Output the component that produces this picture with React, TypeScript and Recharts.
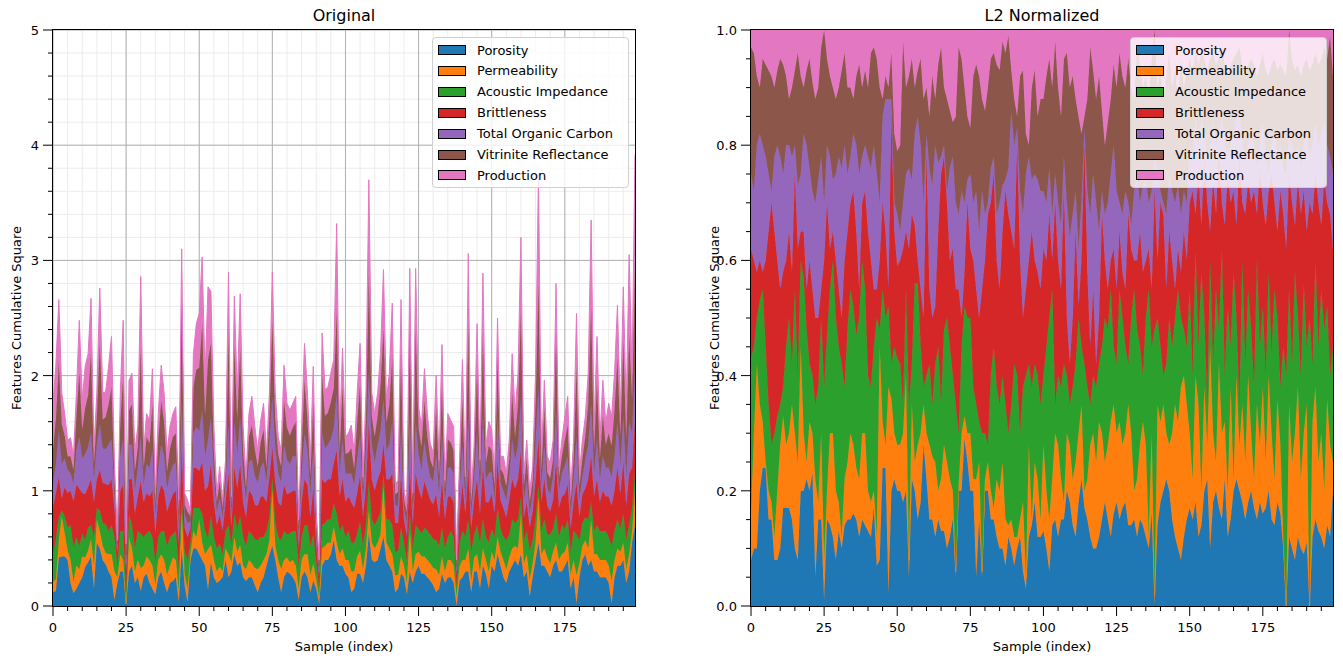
import { AreaChart, Area, XAxis, YAxis, CartesianGrid } from 'recharts';

// Per-sample squared feature values, "Original" panel (hundredths)
const porosityOrig = [
  12, 13, 42, 43, 43, 40, 20, 11, 15, 20, 25, 34, 38, 43, 15, 55, 50, 40, 36, 30, 25, 5, 20, 30, 30, 2, 30, 35, 20, 25, 13, 25, 28, 20, 15, 10, 25, 30, 20, 12, 20, 22, 25, 3, 50, 18, 3, 40, 50, 50,
  45, 40, 35, 14, 38, 25, 20, 22, 25, 40, 25, 30, 45, 35, 38, 25, 22, 25, 25, 18, 12, 20, 25, 35, 45, 52, 40, 25, 12, 25, 30, 28, 25, 20, 5, 25, 30, 25, 12, 22, 15, 2, 35, 40, 40, 45, 57, 40, 35, 35,
  28, 25, 12, 15, 28, 28, 20, 35, 63, 40, 38, 40, 50, 60, 40, 35, 30, 12, 15, 28, 25, 10, 30, 20, 30, 35, 28, 28, 25, 22, 18, 12, 15, 28, 20, 25, 25, 20, 0, 22, 25, 30, 30, 12, 30, 30, 15, 35, 28, 15,
  35, 30, 45, 35, 25, 20, 30, 35, 40, 35, 45, 25, 30, 8, 25, 40, 55, 35, 35, 30, 25, 35, 40, 30, 30, 35, 40, 15, 25, 2, 25, 40, 45, 35, 40, 30, 30, 25, 25, 25, 20, 2, 25, 35, 35, 40, 20, 30, 55, 70,
];
const permeabilityOrig = [
  9, 10, 15, 35, 20, 8, 20, 10, 20, 12, 18, 8, 10, 15, 20, 20, 15, 12, 10, 15, 20, 25, 5, 15, 10, 0, 30, 15, 10, 15, 20, 10, 15, 20, 20, 8, 15, 15, 20, 15, 15, 20, 15, 10, 35, 10, 12, 5, 15, 10,
  30, 15, 10, 35, 15, 15, 10, 12, 5, 10, 20, 8, 15, 12, 15, 10, 10, 15, 12, 15, 20, 15, 15, 10, 12, 50, 12, 15, 20, 15, 12, 10, 15, 15, 10, 15, 15, 20, 15, 15, 8, 5, 15, 12, 15, 10, 12, 15, 10, 15,
  12, 15, 18, 15, 15, 20, 12, 15, 20, 15, 12, 15, 12, 45, 15, 15, 15, 15, 12, 15, 10, 10, 35, 10, 15, 12, 15, 15, 15, 15, 15, 20, 12, 15, 10, 15, 15, 15, 8, 12, 15, 10, 20, 10, 12, 15, 15, 15, 12, 15,
  12, 10, 15, 12, 15, 12, 12, 15, 12, 15, 35, 12, 15, 15, 12, 15, 40, 10, 15, 12, 12, 12, 15, 10, 15, 12, 15, 12, 15, 25, 12, 12, 12, 15, 35, 15, 15, 15, 15, 15, 15, 20, 15, 15, 12, 15, 12, 15, 10, 30,
];
const acousticOrig = [
  25, 35, 20, 5, 15, 20, 30, 30, 25, 20, 20, 15, 20, 12, 25, 10, 18, 20, 25, 20, 25, 30, 10, 20, 25, 10, 20, 20, 20, 25, 30, 25, 20, 25, 25, 20, 20, 20, 25, 25, 25, 20, 25, 20, 10, 20, 25, 10, 20, 25,
  10, 25, 20, 10, 25, 20, 20, 20, 15, 15, 25, 15, 20, 20, 25, 25, 20, 25, 25, 25, 25, 25, 20, 20, 20, 10, 20, 20, 25, 25, 20, 25, 25, 30, 20, 20, 25, 25, 25, 25, 15, 10, 20, 20, 20, 20, 20, 25, 20, 20,
  20, 25, 25, 25, 20, 25, 20, 20, 25, 20, 20, 20, 20, 10, 20, 25, 25, 20, 20, 25, 20, 20, 15, 20, 25, 20, 20, 25, 25, 25, 25, 25, 25, 25, 20, 20, 25, 25, 10, 20, 25, 20, 25, 25, 20, 25, 25, 25, 20, 25,
  20, 20, 25, 20, 20, 25, 20, 25, 20, 25, 15, 20, 20, 25, 20, 20, 10, 20, 25, 20, 25, 20, 25, 20, 25, 20, 20, 20, 25, 35, 20, 20, 20, 25, 15, 20, 25, 25, 25, 25, 25, 30, 25, 25, 20, 25, 25, 25, 20, 15,
];
const brittlenessOrig = [
  40, 40, 35, 10, 25, 30, 30, 40, 45, 50, 35, 40, 35, 40, 30, 25, 35, 35, 35, 40, 40, 25, 10, 35, 40, 15, 30, 40, 30, 30, 45, 30, 35, 30, 40, 25, 35, 40, 35, 30, 30, 35, 35, 20, 40, 20, 20, 12, 35, 35,
  32, 45, 35, 45, 45, 30, 20, 25, 20, 25, 45, 15, 40, 35, 45, 30, 25, 35, 35, 30, 30, 35, 35, 25, 35, 25, 35, 30, 30, 40, 35, 35, 35, 35, 15, 30, 40, 35, 25, 40, 15, 8, 40, 35, 35, 35, 35, 55, 30, 40,
  30, 30, 35, 30, 35, 40, 25, 35, 50, 35, 30, 35, 35, 25, 35, 35, 45, 25, 25, 45, 20, 20, 40, 20, 45, 35, 30, 40, 35, 30, 30, 40, 25, 40, 25, 35, 30, 30, 8, 25, 40, 20, 45, 20, 30, 40, 25, 45, 30, 35,
  30, 20, 40, 25, 25, 20, 30, 35, 30, 35, 40, 20, 25, 20, 25, 35, 40, 25, 35, 25, 20, 25, 45, 25, 25, 30, 30, 20, 25, 45, 20, 25, 25, 35, 40, 30, 40, 25, 35, 30, 35, 35, 35, 45, 30, 45, 30, 45, 35, 45,
];
const tocOrig = [
  20, 25, 40, 30, 25, 20, 15, 15, 30, 45, 30, 35, 35, 40, 20, 30, 40, 30, 30, 35, 35, 15, 5, 30, 40, 10, 30, 30, 20, 25, 40, 15, 25, 25, 35, 15, 25, 35, 30, 20, 25, 25, 25, 15, 45, 12, 12, 6, 30, 35,
  35, 45, 30, 40, 40, 25, 12, 15, 12, 15, 45, 10, 40, 30, 40, 25, 15, 25, 30, 25, 20, 25, 30, 18, 30, 45, 30, 25, 20, 35, 30, 25, 30, 30, 10, 25, 40, 30, 20, 35, 10, 5, 40, 30, 30, 35, 30, 50, 20, 35,
  25, 20, 25, 20, 30, 35, 15, 30, 45, 30, 25, 30, 35, 40, 25, 30, 45, 15, 15, 40, 10, 12, 45, 12, 45, 30, 25, 35, 25, 20, 20, 35, 20, 40, 15, 25, 25, 25, 5, 20, 35, 12, 45, 12, 20, 40, 20, 45, 20, 25,
  20, 12, 40, 15, 15, 15, 20, 35, 25, 30, 45, 15, 20, 12, 15, 30, 45, 15, 30, 15, 15, 20, 45, 15, 20, 25, 25, 12, 20, 40, 15, 15, 25, 30, 45, 20, 35, 20, 30, 25, 25, 25, 30, 40, 25, 40, 25, 45, 30, 45,
];
const vitriniteOrig = [
  30, 40, 60, 35, 20, 12, 15, 12, 30, 55, 25, 40, 45, 70, 13, 25, 70, 25, 28, 35, 45, 12, 4, 30, 55, 8, 30, 35, 17, 18, 75, 15, 24, 21, 40, 10, 25, 38, 30, 15, 22, 25, 25, 12, 80, 8, 10, 5, 40, 50,
  55, 75, 35, 70, 65, 20, 8, 14, 8, 12, 75, 8, 65, 30, 60, 20, 10, 22, 30, 23, 14, 22, 28, 12, 23, 65, 25, 17, 14, 38, 28, 25, 25, 30, 8, 21, 45, 28, 15, 40, 10, 5, 50, 28, 28, 32, 35, 70, 18, 45,
  17, 18, 22, 14, 32, 45, 10, 28, 85, 25, 22, 25, 40, 60, 24, 35, 55, 10, 12, 65, 8, 9, 75, 8, 80, 22, 20, 35, 22, 15, 12, 40, 15, 45, 10, 25, 22, 20, 4, 14, 40, 10, 80, 10, 15, 55, 14, 70, 14, 24,
  18, 12, 50, 12, 15, 12, 16, 40, 20, 35, 75, 12, 18, 10, 12, 35, 90, 12, 32, 14, 14, 16, 65, 11, 15, 22, 27, 11, 18, 60, 12, 16, 20, 35, 85, 20, 50, 18, 35, 20, 30, 27, 40, 55, 25, 65, 32, 75, 30, 90,
];
const productionOrig = [
  40, 47, 54, 27, 19, 14, 16, 12, 20, 46, 26, 36, 36, 47, 15, 20, 48, 23, 22, 33, 44, 15, 3, 25, 48, 9, 26, 27, 18, 18, 63, 15, 20, 20, 31, 10, 22, 31, 25, 16, 19, 20, 23, 12, 50, 10, 10, 5, 29, 40,
  47, 58, 35, 63, 45, 21, 8, 13, 7, 10, 55, 9, 44, 23, 48, 21, 10, 20, 25, 20, 14, 19, 23, 13, 20, 43, 23, 15, 14, 31, 21, 22, 21, 22, 7, 20, 33, 22, 15, 31, 10, 5, 37, 23, 22, 25, 25, 77, 17, 34,
  15, 17, 20, 14, 25, 35, 10, 22, 82, 20, 20, 20, 28, 52, 20, 27, 48, 9, 10, 48, 7, 8, 53, 8, 53, 19, 18, 28, 20, 14, 13, 28, 15, 34, 9, 22, 19, 21, 5, 14, 34, 10, 61, 9, 14, 40, 13, 54, 14, 21,
  18, 11, 35, 11, 15, 11, 16, 34, 20, 27, 65, 11, 16, 10, 12, 27, 95, 13, 24, 14, 13, 16, 45, 10, 14, 20, 25, 10, 16, 47, 11, 16, 17, 27, 75, 18, 39, 16, 31, 19, 26, 25, 32, 46, 20, 47, 29, 70, 22, 97,
];

// Per-sample shares, "L2 Normalized" panel (percent)
const porosityL2 = [
  8, 10, 10, 20, 24, 24, 15, 15, 8, 8, 10, 17, 17, 17, 15, 10, 8, 20, 20, 22, 20, 23, 5, 15, 15, 1, 15, 14, 12, 8, 13, 10, 14, 15, 15, 16, 15, 12, 15, 14, 13, 12, 17, 7, 8, 24, 24, 2, 20, 22,
  20, 20, 18, 20, 5, 22, 20, 15, 18, 28, 22, 15, 15, 12, 15, 13, 13, 10, 12, 15, 5, 20, 20, 29, 25, 20, 20, 5, 15, 5, 20, 20, 15, 15, 12, 10, 10, 7, 12, 10, 7, 10, 12, 6, 3, 12, 14, 18, 12, 12,
  13, 10, 6, 14, 15, 12, 15, 15, 20, 18, 14, 12, 18, 22, 17, 15, 12, 10, 10, 12, 15, 18, 15, 12, 16, 18, 15, 17, 18, 14, 14, 15, 12, 15, 14, 12, 10, 16, 0, 14, 18, 20, 22, 20, 15, 12, 10, 8, 12, 15,
  17, 15, 18, 12, 14, 20, 22, 10, 18, 20, 17, 15, 22, 12, 15, 20, 22, 20, 18, 15, 18, 20, 17, 15, 18, 16, 17, 20, 15, 14, 18, 16, 10, 0, 12, 10, 8, 12, 10, 9, 11, 0, 12, 15, 13, 12, 10, 14, 12, 20,
];
const permeabilityL2 = [
  8, 20, 32, 15, 8, 1, 5, 3, 4, 12, 18, 16, 11, 13, 20, 20, 17, 25, 10, 3, 12, 7, 17, 3, 15, 7, 5, 16, 18, 12, 5, 2, 8, 10, 15, 12, 9, 10, 15, 16, 7, 6, 3, 5, 37, 8, 4, 36, 16, 8,
  8, 8, 12, 20, 3, 13, 5, 13, 12, 7, 8, 13, 11, 13, 5, 9, 15, 15, 10, 5, 1, 1, 10, 4, 5, 10, 2, 17, 10, 1, 2, 5, 5, 2, 10, 10, 15, 8, 2, 5, 5, 2, 3, 12, 2, 16, 1, 7, 10, 3,
  15, 10, 9, 8, 15, 16, 7, 3, 10, 10, 8, 13, 12, 13, 3, 7, 16, 20, 15, 20, 15, 7, 13, 20, 19, 12, 17, 11, 12, 21, 16, 5, 10, 13, 18, 16, 2, 14, 2, 21, 14, 15, 8, 8, 15, 23, 22, 30, 28, 20,
  13, 7, 22, 23, 6, 18, 6, 35, 12, 5, 25, 15, 10, 8, 23, 2, 18, 8, 17, 10, 22, 10, 5, 20, 10, 22, 8, 20, 15, 8, 18, 12, 2, 0, 23, 15, 22, 26, 12, 21, 24, 0, 20, 23, 12, 18, 10, 22, 16, 5,
];
const acousticL2 = [
  27, 15, 8, 18, 23, 20, 15, 10, 18, 13, 7, 5, 17, 20, 7, 25, 15, 15, 27, 23, 10, 10, 13, 20, 20, 30, 27, 25, 30, 30, 27, 30, 16, 23, 25, 24, 23, 28, 30, 25, 20, 20, 25, 38, 3, 23, 22, 14, 6, 15,
  15, 14, 5, 15, 27, 7, 31, 28, 15, 3, 10, 14, 9, 17, 25, 13, 20, 25, 23, 20, 29, 9, 15, 19, 20, 20, 16, 13, 7, 24, 8, 3, 20, 28, 16, 15, 15, 20, 16, 20, 30, 28, 15, 20, 35, 14, 23, 17, 18, 20,
  12, 25, 35, 33, 5, 12, 16, 24, 10, 7, 16, 17, 20, 10, 22, 16, 7, 10, 13, 10, 15, 25, 20, 23, 10, 12, 23, 22, 15, 7, 20, 35, 26, 17, 8, 22, 43, 15, 46, 15, 13, 5, 12, 22, 15, 15, 23, 12, 8, 10,
  25, 18, 22, 10, 38, 12, 7, 15, 12, 30, 6, 32, 8, 32, 7, 36, 10, 7, 25, 17, 15, 18, 16, 25, 17, 14, 15, 18, 14, 33, 14, 10, 33, 40, 20, 17, 28, 12, 18, 26, 10, 50, 10, 22, 20, 25, 28, 16, 12, 20,
];
const brittlenessL2 = [
  19, 15, 8, 7, 3, 15, 30, 42, 35, 27, 20, 20, 15, 15, 16, 20, 22, 5, 8, 7, 18, 15, 15, 12, 5, 22, 23, 7, 5, 10, 10, 8, 22, 17, 15, 20, 18, 5, 10, 17, 25, 22, 10, 5, 12, 15, 15, 3, 43, 20,
  16, 18, 27, 10, 27, 26, 10, 4, 10, 12, 38, 13, 15, 10, 20, 40, 30, 20, 15, 22, 20, 25, 5, 6, 20, 12, 22, 20, 18, 25, 30, 40, 30, 30, 22, 20, 25, 37, 38, 30, 20, 40, 30, 12, 15, 18, 27, 18, 18, 20,
  22, 15, 18, 5, 35, 20, 17, 30, 10, 7, 12, 23, 2, 15, 38, 20, 10, 15, 4, 8, 23, 10, 7, 5, 17, 13, 10, 8, 10, 26, 12, 5, 12, 20, 18, 10, 7, 10, 24, 10, 25, 28, 13, 15, 15, 5, 7, 8, 17, 15,
  15, 32, 6, 30, 8, 28, 35, 5, 32, 13, 32, 8, 26, 23, 25, 14, 16, 43, 10, 26, 19, 22, 34, 8, 31, 18, 26, 14, 31, 15, 15, 34, 23, 22, 20, 28, 8, 24, 28, 16, 20, 20, 26, 15, 25, 11, 26, 18, 28, 17,
];
const tocL2 = [
  13, 12, 22, 22, 22, 18, 10, 2, 13, 20, 23, 17, 20, 15, 20, 5, 11, 10, 17, 25, 16, 17, 20, 24, 23, 10, 10, 16, 9, 15, 23, 26, 20, 10, 8, 10, 15, 20, 8, 8, 13, 16, 25, 20, 10, 15, 23, 33, 3, 5,
  9, 5, 8, 10, 14, 6, 16, 25, 25, 20, 4, 21, 23, 28, 12, 3, 2, 2, 16, 16, 15, 13, 22, 12, 4, 13, 10, 17, 15, 17, 8, 2, 6, 3, 8, 15, 8, 2, 8, 21, 18, 3, 12, 18, 20, 18, 9, 15, 16, 17,
  10, 10, 8, 8, 5, 10, 11, 6, 20, 22, 18, 7, 10, 10, 3, 14, 23, 20, 28, 15, 4, 8, 15, 15, 18, 17, 5, 10, 17, 2, 4, 12, 15, 5, 15, 14, 8, 17, 6, 15, 2, 2, 13, 10, 12, 15, 11, 10, 7, 10,
  10, 6, 17, 5, 19, 4, 8, 15, 10, 12, 2, 15, 14, 3, 10, 10, 19, 8, 10, 10, 6, 12, 8, 8, 4, 14, 12, 3, 5, 12, 13, 8, 8, 13, 7, 10, 12, 6, 8, 8, 17, 8, 12, 9, 10, 16, 10, 10, 10, 13,
];
const vitriniteL2 = [
  22, 24, 12, 8, 15, 16, 18, 20, 12, 13, 17, 19, 12, 8, 12, 13, 23, 17, 8, 13, 19, 19, 18, 16, 19, 30, 15, 14, 16, 13, 12, 17, 16, 15, 12, 6, 12, 19, 12, 13, 12, 20, 17, 20, 20, 3, 4, 2, 8, 12,
  11, 15, 28, 15, 16, 21, 8, 8, 15, 18, 8, 9, 19, 8, 17, 19, 10, 16, 10, 6, 15, 29, 23, 20, 11, 8, 22, 22, 27, 16, 18, 20, 19, 18, 26, 23, 25, 22, 23, 7, 8, 2, 20, 25, 7, 2, 16, 18, 11, 16,
  16, 22, 19, 22, 23, 20, 19, 17, 26, 26, 24, 16, 23, 12, 2, 16, 29, 18, 18, 27, 14, 12, 14, 13, 14, 18, 26, 24, 18, 25, 24, 16, 22, 24, 17, 18, 18, 23, 22, 15, 21, 18, 24, 21, 18, 23, 15, 27, 18, 23,
  15, 15, 11, 14, 11, 13, 15, 15, 12, 14, 13, 12, 14, 14, 14, 13, 11, 11, 14, 15, 14, 13, 14, 16, 14, 12, 15, 17, 14, 13, 15, 14, 17, 17, 18, 15, 15, 14, 16, 14, 13, 15, 14, 12, 14, 13, 13, 15, 21, 17,
];
const productionL2 = [
  3, 4, 8, 10, 5, 6, 7, 8, 10, 7, 5, 6, 8, 12, 10, 7, 4, 8, 10, 7, 5, 9, 12, 10, 3, 0, 5, 8, 10, 12, 10, 7, 4, 10, 10, 12, 8, 6, 10, 7, 10, 4, 3, 5, 10, 12, 8, 10, 4, 18,
  21, 20, 2, 10, 8, 5, 10, 7, 5, 12, 10, 15, 8, 12, 6, 3, 10, 12, 14, 16, 15, 3, 5, 10, 15, 17, 8, 6, 8, 12, 14, 10, 5, 4, 6, 7, 2, 4, 1, 7, 12, 15, 8, 7, 18, 20, 10, 7, 15, 12,
  12, 8, 5, 10, 2, 10, 15, 5, 4, 10, 8, 12, 15, 18, 15, 12, 3, 7, 12, 8, 14, 20, 16, 12, 6, 10, 4, 8, 10, 5, 10, 12, 3, 6, 10, 8, 12, 5, 0, 10, 7, 12, 8, 4, 10, 7, 12, 5, 10, 7,
  5, 7, 4, 6, 4, 5, 7, 5, 4, 6, 5, 3, 6, 8, 6, 5, 4, 3, 6, 7, 6, 5, 6, 8, 6, 4, 7, 8, 6, 5, 7, 6, 7, 8, 0, 5, 7, 6, 8, 6, 5, 7, 6, 4, 6, 5, 3, 5, 1, 8,
];

const seriesNames = [
  'Porosity',
  'Permeability',
  'Acoustic Impedance',
  'Brittleness',
  'Total Organic Carbon',
  'Vitrinite Reflectance',
  'Production',
];
const seriesColors = ['#1f77b4', '#ff7f0e', '#2ca02c', '#d62728', '#9467bd', '#8c564b', '#e377c2'];

const xTicks = [
  0, 5, 10, 15, 20, 25, 30, 35, 40, 45, 50, 55, 60, 65, 70, 75, 80, 85, 90, 95, 100, 105, 110, 115, 120, 125, 130, 135,
  140, 145, 150, 155, 160, 165, 170, 175, 180, 185, 190, 195,
];
const xMajorTicks = [0, 25, 50, 75, 100, 125, 150, 175];
const yTicksOrig = [
  0, 0.2, 0.4, 0.6, 0.8, 1, 1.2, 1.4, 1.6, 1.8, 2, 2.2, 2.4, 2.6, 2.8, 3, 3.2, 3.4, 3.6, 3.8, 4, 4.2, 4.4, 4.6, 4.8, 5,
];
const yMajorOrig = [0, 1, 2, 3, 4, 5];
const yTicksL2 = [
  0, 0.05, 0.1, 0.15, 0.2, 0.25, 0.3, 0.35, 0.4, 0.45, 0.5, 0.55, 0.6, 0.65, 0.7, 0.75, 0.8, 0.85, 0.9, 0.95, 1,
];
const yMajorL2 = [0, 0.2, 0.4, 0.6, 0.8, 1];

const origColumns = [porosityOrig, permeabilityOrig, acousticOrig, brittlenessOrig, tocOrig, vitriniteOrig, productionOrig];
const l2Columns = [porosityL2, permeabilityL2, acousticL2, brittlenessL2, tocL2, vitriniteL2, productionL2];

const buildRows = (cols: number[][], scale: number) =>
  cols[0].map((_, i) => {
    const row: Record<string, number> = { sample: i };
    seriesNames.forEach((name, k) => {
      row[name] = cols[k][i] / scale;
    });
    return row;
  });

const originalData = buildRows(origColumns, 100);
const l2Data = buildRows(l2Columns, 100);

const FONT = '"DejaVu Sans", Verdana, sans-serif';

const XTick = (props: any) => {
  const { x, y, payload } = props;
  const major = xMajorTicks.includes(payload.value);
  return (
    <g>
      <line x1={x} x2={x} y1={y} y2={y + (major ? 10 : 5)} stroke="#000" strokeWidth={1} />
      {major && (
        <text x={x} y={y + 26} textAnchor="middle" fontSize={13} fill="#000" fontFamily={FONT}>
          {payload.value}
        </text>
      )}
    </g>
  );
};

const makeYTick = (majors: number[], digits: number) => (props: any) => {
  const { x, y, payload } = props;
  const major = majors.some((m) => Math.abs(m - payload.value) < 1e-9);
  return (
    <g>
      <line x1={x} x2={x - (major ? 10 : 5)} y1={y} y2={y} stroke="#000" strokeWidth={1} />
      {major && (
        <text x={x - 14} y={y + 5} textAnchor="end" fontSize={13} fill="#000" fontFamily={FONT}>
          {payload.value.toFixed(digits)}
        </text>
      )}
    </g>
  );
};

const YTickOrig = makeYTick(yMajorOrig, 0);
const YTickL2 = makeYTick(yMajorL2, 1);

const LegendBox = ({ left }: { left: number }) => (
  <div
    style={{
      position: 'absolute',
      left,
      top: 37,
      width: 197,
      height: 151,
      background: 'rgba(255,255,255,0.8)',
      border: '1px solid #d0d0d0',
      borderRadius: 4,
      boxSizing: 'border-box',
    }}
  >
    {seriesNames.map((name, i) => (
      <div
        key={name}
        style={{
          position: 'absolute',
          left: 5,
          top: 4 + i * 20.9,
          height: 16,
          display: 'flex',
          alignItems: 'center',
          whiteSpace: 'nowrap',
        }}
      >
        <div
          style={{
            width: 28,
            height: 10,
            background: seriesColors[i],
            border: '1px solid #000',
            boxSizing: 'border-box',
          }}
        />
        <span style={{ marginLeft: 11, fontSize: 13, color: '#000' }}>{name}</span>
      </div>
    ))}
  </div>
);

const Panel = ({
  left,
  title,
  data,
  expand,
}: {
  left: number;
  title: string;
  data: Record<string, number>[];
  expand: boolean;
}) => (
  <div style={{ position: 'absolute', left, top: 0, width: 660, height: 664 }}>
    <AreaChart
      width={660}
      height={664}
      data={data}
      stackOffset={expand ? 'expand' : 'none'}
      margin={{ top: 30, right: 25, bottom: 0, left: 0 }}
    >
      {!expand && (
        <CartesianGrid
          stroke="#ececec"
          strokeWidth={1}
          horizontalValues={yTicksOrig}
          verticalValues={xTicks}
        />
      )}
      {!expand && (
        <CartesianGrid
          stroke="#b0b0b0"
          strokeWidth={1}
          horizontalValues={yMajorOrig}
          verticalValues={xMajorTicks}
        />
      )}
      <XAxis
        dataKey="sample"
        type="number"
        domain={[0, 199]}
        ticks={xTicks}
        interval={0}
        height={58}
        axisLine={false}
        tickLine={false}
        tickSize={0}
        tickMargin={0}
        tick={XTick}
      />
      <YAxis
        type="number"
        domain={expand ? [0, 1] : [0, 5]}
        ticks={expand ? yTicksL2 : yTicksOrig}
        interval={0}
        width={53}
        axisLine={false}
        tickLine={false}
        tickSize={0}
        tickMargin={0}
        tick={expand ? YTickL2 : YTickOrig}
      />
      {seriesNames.map((name, i) => (
        <Area
          key={name}
          type="linear"
          dataKey={name}
          stackId="s"
          stroke={seriesColors[i]}
          strokeWidth={1}
          fill={seriesColors[i]}
          fillOpacity={1}
          dot={false}
          activeDot={false}
          isAnimationActive={false}
        />
      ))}
    </AreaChart>
    <div
      style={{
        position: 'absolute',
        left: 52,
        top: 29,
        width: 584,
        height: 578,
        border: '1px solid #000',
        boxSizing: 'border-box',
        pointerEvents: 'none',
      }}
    />
    <div
      style={{
        position: 'absolute',
        left: 344,
        top: 16,
        transform: 'translate(-50%, -50%)',
        fontSize: 16,
        lineHeight: '16px',
        whiteSpace: 'nowrap',
      }}
    >
      {title}
    </div>
    <div
      style={{
        position: 'absolute',
        left: 344,
        top: 646,
        transform: 'translate(-50%, -50%)',
        fontSize: 13,
        lineHeight: '13px',
        whiteSpace: 'nowrap',
      }}
    >
      Sample (index)
    </div>
    <div
      style={{
        position: 'absolute',
        left: 16,
        top: 318,
        transform: 'translate(-50%, -50%) rotate(-90deg)',
        fontSize: 13,
        lineHeight: '13px',
        whiteSpace: 'nowrap',
      }}
    >
      Features Cumulative Square
    </div>
    <LegendBox left={432} />
  </div>
);

export default function App() {
  return (
    <div
      style={{
        position: 'absolute',
        left: 0,
        top: 0,
        width: 1343,
        height: 664,
        background: '#fff',
        fontFamily: FONT,
        color: '#000',
        overflow: 'hidden',
      }}
    >
      <Panel left={0} title="Original" data={originalData} expand={false} />
      <Panel left={698} title="L2 Normalized" data={l2Data} expand={true} />
    </div>
  );
}
